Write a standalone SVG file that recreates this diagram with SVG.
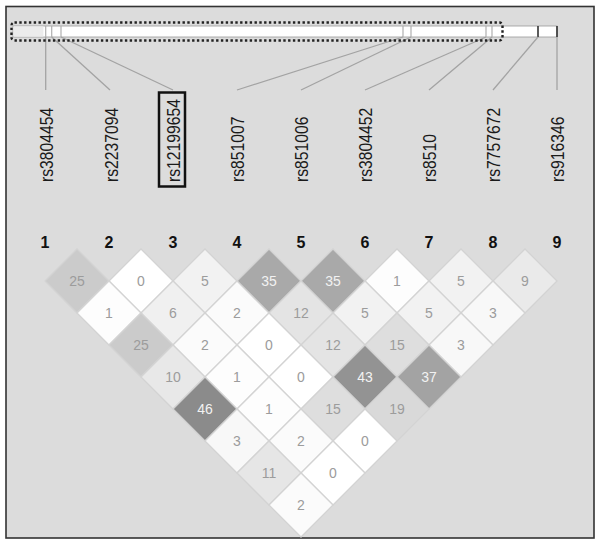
<svg xmlns="http://www.w3.org/2000/svg" xmlns:xlink="http://www.w3.org/1999/xlink" width="601" height="545" viewBox="0 0 601 545">
<style>
.lbl{font-family:"Liberation Sans",Arial,sans-serif;font-size:18.5px;fill:#1a1a1a}
.num{font-family:"Liberation Sans",Arial,sans-serif;font-size:16px;font-weight:bold;fill:#111;text-anchor:middle}
.v{font-family:"Liberation Sans",Arial,sans-serif;font-size:14px;fill:#9c9c9c;text-anchor:middle}
.vd{font-family:"Liberation Sans",Arial,sans-serif;font-size:14px;fill:#f2f2f2;text-anchor:middle}
.conn{stroke:#a3a3a3;stroke-width:1.3;fill:none}
.tick{stroke:#b0b0b0;stroke-width:1.2}
.dm{stroke:#d3d3d3;stroke-width:1.3}
</style>
<defs>
<path id="dmd" d="M0,-32 L32,0 L0,32 L-32,0Z"/>
</defs>
<rect x="0" y="0" width="601" height="545" fill="#ffffff"/>
<rect id="frame" x="6" y="6.5" width="588" height="531.5" fill="#dcdcdc" stroke="#333" stroke-width="1.6"/>
<g id="bar">
<rect x="13" y="26" width="544" height="11" fill="#ffffff" stroke="#9a9a9a" stroke-width="0.8"/>
<rect x="13.4" y="26.4" width="30" height="10.2" fill="#ececec"/>
<line class="tick" x1="45.7" y1="26" x2="45.7" y2="37"/>
<line class="tick" x1="51.7" y1="26" x2="51.7" y2="37"/>
<line class="tick" x1="61" y1="26" x2="61" y2="37"/>
<line class="tick" x1="403" y1="26" x2="403" y2="37"/>
<line class="tick" x1="411" y1="26" x2="411" y2="37"/>
<line class="tick" x1="486" y1="26" x2="486" y2="37"/>
<line class="tick" x1="492" y1="26" x2="492" y2="37"/>
<line x1="538" y1="26" x2="538" y2="37" stroke="#333" stroke-width="1.6"/>
<line x1="557" y1="26" x2="557" y2="37" stroke="#333" stroke-width="1.6"/>
</g>
<g id="connectors">
<line class="conn" x1="45.7" y1="37" x2="45.7" y2="90"/>
<line class="conn" x1="51.7" y1="37" x2="110" y2="90"/>
<line class="conn" x1="61" y1="37" x2="173" y2="90"/>
<line class="conn" x1="403" y1="37" x2="237" y2="90"/>
<line class="conn" x1="411" y1="37" x2="301" y2="90"/>
<line class="conn" x1="486" y1="37" x2="365" y2="90"/>
<line class="conn" x1="492" y1="37" x2="429" y2="90"/>
<line class="conn" x1="538" y1="37" x2="493" y2="90"/>
<line class="conn" x1="557" y1="37" x2="557" y2="90"/>
</g>
<rect id="block" x="11.5" y="22.5" width="491" height="18" rx="3" fill="none" stroke="#222" stroke-width="2.4" stroke-dasharray="2.4 2.4"/>
<g id="snp1"><text class="lbl" transform="translate(52.5,182) rotate(-90) scale(0.85,1)">rs3804454</text></g>
<g id="snp2"><text class="lbl" transform="translate(117.5,182) rotate(-90) scale(0.85,1)">rs2237094</text></g>
<g id="snp3"><rect x="159" y="92.5" width="26" height="94" fill="none" stroke="#111" stroke-width="2.5"/><text class="lbl" transform="translate(180,182) rotate(-90) scale(0.85,1)">rs12199654</text></g>
<g id="snp4"><text class="lbl" transform="translate(244,182) rotate(-90) scale(0.85,1)">rs851007</text></g>
<g id="snp5"><text class="lbl" transform="translate(308,182) rotate(-90) scale(0.85,1)">rs851006</text></g>
<g id="snp6"><text class="lbl" transform="translate(372,182) rotate(-90) scale(0.85,1)">rs3804452</text></g>
<g id="snp7"><text class="lbl" transform="translate(436,182) rotate(-90) scale(0.85,1)">rs8510</text></g>
<g id="snp8"><text class="lbl" transform="translate(500,182) rotate(-90) scale(0.85,1)">rs7757672</text></g>
<g id="snp9"><text class="lbl" transform="translate(563.5,182) rotate(-90) scale(0.85,1)">rs916346</text></g>
<g id="numbers">
<text class="num" x="45" y="248">1</text>
<text class="num" x="109" y="248">2</text>
<text class="num" x="173" y="248">3</text>
<text class="num" x="237" y="248">4</text>
<text class="num" x="301" y="248">5</text>
<text class="num" x="365" y="248">6</text>
<text class="num" x="429" y="248">7</text>
<text class="num" x="493" y="248">8</text>
<text class="num" x="557" y="248">9</text>
</g>
<g id="ld">
<g id="c1-2"><use xlink:href="#dmd" class="dm" fill="#cbcbcb" transform="translate(77,281)"/><text class="v" x="77" y="286">25</text></g>
<g id="c2-3"><use xlink:href="#dmd" class="dm" fill="#ffffff" transform="translate(141,281)"/><text class="v" x="141" y="286">0</text></g>
<g id="c3-4"><use xlink:href="#dmd" class="dm" fill="#f2f2f2" transform="translate(205,281)"/><text class="v" x="205" y="286">5</text></g>
<g id="c4-5"><use xlink:href="#dmd" class="dm" fill="#a9a9a9" transform="translate(269,281)"/><text class="vd" x="269" y="286">35</text></g>
<g id="c5-6"><use xlink:href="#dmd" class="dm" fill="#a9a9a9" transform="translate(333,281)"/><text class="vd" x="333" y="286">35</text></g>
<g id="c6-7"><use xlink:href="#dmd" class="dm" fill="#fdfdfd" transform="translate(397,281)"/><text class="v" x="397" y="286">1</text></g>
<g id="c7-8"><use xlink:href="#dmd" class="dm" fill="#f2f2f2" transform="translate(461,281)"/><text class="v" x="461" y="286">5</text></g>
<g id="c8-9"><use xlink:href="#dmd" class="dm" fill="#eaeaea" transform="translate(525,281)"/><text class="v" x="525" y="286">9</text></g>
<g id="c1-3"><use xlink:href="#dmd" class="dm" fill="#fdfdfd" transform="translate(109,313)"/><text class="v" x="109" y="318">1</text></g>
<g id="c2-4"><use xlink:href="#dmd" class="dm" fill="#f0f0f0" transform="translate(173,313)"/><text class="v" x="173" y="318">6</text></g>
<g id="c3-5"><use xlink:href="#dmd" class="dm" fill="#fbfbfb" transform="translate(237,313)"/><text class="v" x="237" y="318">2</text></g>
<g id="c4-6"><use xlink:href="#dmd" class="dm" fill="#e4e4e4" transform="translate(301,313)"/><text class="v" x="301" y="318">12</text></g>
<g id="c5-7"><use xlink:href="#dmd" class="dm" fill="#f2f2f2" transform="translate(365,313)"/><text class="v" x="365" y="318">5</text></g>
<g id="c6-8"><use xlink:href="#dmd" class="dm" fill="#f2f2f2" transform="translate(429,313)"/><text class="v" x="429" y="318">5</text></g>
<g id="c7-9"><use xlink:href="#dmd" class="dm" fill="#f8f8f8" transform="translate(493,313)"/><text class="v" x="493" y="318">3</text></g>
<g id="c1-4"><use xlink:href="#dmd" class="dm" fill="#cbcbcb" transform="translate(141,345)"/><text class="v" x="141" y="350">25</text></g>
<g id="c2-5"><use xlink:href="#dmd" class="dm" fill="#fbfbfb" transform="translate(205,345)"/><text class="v" x="205" y="350">2</text></g>
<g id="c3-6"><use xlink:href="#dmd" class="dm" fill="#ffffff" transform="translate(269,345)"/><text class="v" x="269" y="350">0</text></g>
<g id="c4-7"><use xlink:href="#dmd" class="dm" fill="#e4e4e4" transform="translate(333,345)"/><text class="v" x="333" y="350">12</text></g>
<g id="c5-8"><use xlink:href="#dmd" class="dm" fill="#dedede" transform="translate(397,345)"/><text class="v" x="397" y="350">15</text></g>
<g id="c6-9"><use xlink:href="#dmd" class="dm" fill="#f8f8f8" transform="translate(461,345)"/><text class="v" x="461" y="350">3</text></g>
<g id="c1-5"><use xlink:href="#dmd" class="dm" fill="#e8e8e8" transform="translate(173,377)"/><text class="v" x="173" y="382">10</text></g>
<g id="c2-6"><use xlink:href="#dmd" class="dm" fill="#fdfdfd" transform="translate(237,377)"/><text class="v" x="237" y="382">1</text></g>
<g id="c3-7"><use xlink:href="#dmd" class="dm" fill="#ffffff" transform="translate(301,377)"/><text class="v" x="301" y="382">0</text></g>
<g id="c4-8"><use xlink:href="#dmd" class="dm" fill="#939393" transform="translate(365,377)"/><text class="vd" x="365" y="382">43</text></g>
<g id="c5-9"><use xlink:href="#dmd" class="dm" fill="#a3a3a3" transform="translate(429,377)"/><text class="vd" x="429" y="382">37</text></g>
<g id="c1-6"><use xlink:href="#dmd" class="dm" fill="#8b8b8b" transform="translate(205,409)"/><text class="vd" x="205" y="414">46</text></g>
<g id="c2-7"><use xlink:href="#dmd" class="dm" fill="#fdfdfd" transform="translate(269,409)"/><text class="v" x="269" y="414">1</text></g>
<g id="c3-8"><use xlink:href="#dmd" class="dm" fill="#dedede" transform="translate(333,409)"/><text class="v" x="333" y="414">15</text></g>
<g id="c4-9"><use xlink:href="#dmd" class="dm" fill="#d9d9d9" transform="translate(397,409)"/><text class="v" x="397" y="414">19</text></g>
<g id="c1-7"><use xlink:href="#dmd" class="dm" fill="#f8f8f8" transform="translate(237,441)"/><text class="v" x="237" y="446">3</text></g>
<g id="c2-8"><use xlink:href="#dmd" class="dm" fill="#fbfbfb" transform="translate(301,441)"/><text class="v" x="301" y="446">2</text></g>
<g id="c3-9"><use xlink:href="#dmd" class="dm" fill="#ffffff" transform="translate(365,441)"/><text class="v" x="365" y="446">0</text></g>
<g id="c1-8"><use xlink:href="#dmd" class="dm" fill="#e6e6e6" transform="translate(269,473)"/><text class="v" x="269" y="478">11</text></g>
<g id="c2-9"><use xlink:href="#dmd" class="dm" fill="#ffffff" transform="translate(333,473)"/><text class="v" x="333" y="478">0</text></g>
<g id="c1-9"><use xlink:href="#dmd" class="dm" fill="#fbfbfb" transform="translate(301,505)"/><text class="v" x="301" y="510">2</text></g>
</g>
</svg>
